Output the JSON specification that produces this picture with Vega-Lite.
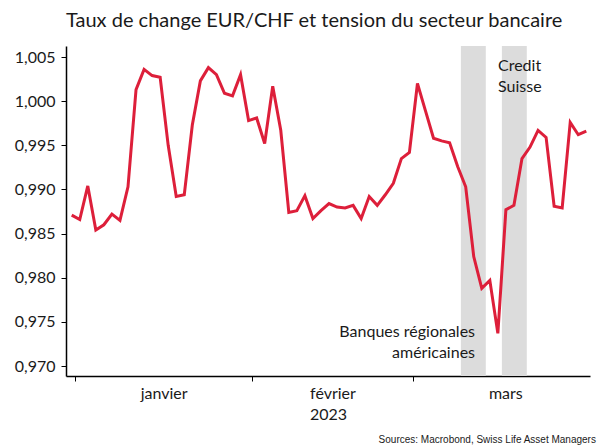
{
  "$schema": "https://vega.github.io/schema/vega-lite/v6.json",
  "width": 524,
  "height": 330,
  "autosize": {"type": "none"},
  "padding": {"left": 66, "top": 46, "right": 7, "bottom": 70},
  "background": "white",
  "title": {
    "text": "Taux de change EUR/CHF et tension du secteur bancaire",
    "anchor": "start",
    "frame": "group",
    "font": "Lato",
    "fontSize": 20,
    "fontWeight": "normal",
    "color": "#1a1a1a",
    "offset": 15
  },
  "config": {"view": {"stroke": null}},
  "layer": [
    {
      "data": {"values": [
        {"event": "Banques régionales américaines", "start": 48.4, "end": 51.5},
        {"event": "Credit Suisse", "start": 53.5, "end": 56.6}
      ]},
      "mark": {"type": "rect", "color": "#DCDCDC"},
      "encoding": {
        "x": {
          "field": "start", "type": "quantitative", "title": "2023",
          "scale": {"domain": [-0.71, 64.46], "nice": false, "zero": false},
          "axis": {
            "values": [0.43, 11.43, 22.43, 32.43, 42.43, 53.93],
            "labelExpr": "abs(datum.value-11.43)<0.1 ? 'janvier' : abs(datum.value-32.43)<0.1 ? 'février' : abs(datum.value-53.93)<0.1 ? 'mars' : ''",
            "tickOpacity": {"condition": {"test": "abs(datum.value-11.43)<0.1 || abs(datum.value-32.43)<0.1 || abs(datum.value-53.93)<0.1", "value": 0}, "value": 1},
            "labelOverlap": false,
            "labelFlush": false,
            "grid": false,
            "domainColor": "#000000",
            "domainWidth": 1.5,
            "tickColor": "#000000",
            "tickWidth": 1,
            "tickSize": 5,
            "labelPadding": 4,
            "labelFont": "Lato",
            "labelFontSize": 16,
            "labelColor": "#1a1a1a",
            "titleFont": "Lato",
            "titleFontSize": 16,
            "titleFontWeight": "normal",
            "titleColor": "#1a1a1a",
            "titlePadding": 5
          }
        },
        "x2": {"field": "end"}
      }
    },
    {
      "data": {"values": [
        {"i": 0, "date": "2023-01-02", "eurchf": 0.9871},
        {"i": 1, "date": "2023-01-03", "eurchf": 0.9866},
        {"i": 2, "date": "2023-01-04", "eurchf": 0.9904},
        {"i": 3, "date": "2023-01-05", "eurchf": 0.9854},
        {"i": 4, "date": "2023-01-06", "eurchf": 0.9860},
        {"i": 5, "date": "2023-01-09", "eurchf": 0.9872},
        {"i": 6, "date": "2023-01-10", "eurchf": 0.9865},
        {"i": 7, "date": "2023-01-11", "eurchf": 0.9903},
        {"i": 8, "date": "2023-01-12", "eurchf": 1.0013},
        {"i": 9, "date": "2023-01-13", "eurchf": 1.0036},
        {"i": 10, "date": "2023-01-16", "eurchf": 1.0029},
        {"i": 11, "date": "2023-01-17", "eurchf": 1.0027},
        {"i": 12, "date": "2023-01-18", "eurchf": 0.9950},
        {"i": 13, "date": "2023-01-19", "eurchf": 0.9892},
        {"i": 14, "date": "2023-01-20", "eurchf": 0.9894},
        {"i": 15, "date": "2023-01-23", "eurchf": 0.9973},
        {"i": 16, "date": "2023-01-24", "eurchf": 1.0023},
        {"i": 17, "date": "2023-01-25", "eurchf": 1.0038},
        {"i": 18, "date": "2023-01-26", "eurchf": 1.0030},
        {"i": 19, "date": "2023-01-27", "eurchf": 1.0009},
        {"i": 20, "date": "2023-01-30", "eurchf": 1.0006},
        {"i": 21, "date": "2023-01-31", "eurchf": 1.0030},
        {"i": 22, "date": "2023-02-01", "eurchf": 0.9978},
        {"i": 23, "date": "2023-02-02", "eurchf": 0.9981},
        {"i": 24, "date": "2023-02-03", "eurchf": 0.9952},
        {"i": 25, "date": "2023-02-06", "eurchf": 1.0017},
        {"i": 26, "date": "2023-02-07", "eurchf": 0.9967},
        {"i": 27, "date": "2023-02-08", "eurchf": 0.9874},
        {"i": 28, "date": "2023-02-09", "eurchf": 0.9876},
        {"i": 29, "date": "2023-02-10", "eurchf": 0.9893},
        {"i": 30, "date": "2023-02-13", "eurchf": 0.9867},
        {"i": 31, "date": "2023-02-14", "eurchf": 0.9876},
        {"i": 32, "date": "2023-02-15", "eurchf": 0.9884},
        {"i": 33, "date": "2023-02-16", "eurchf": 0.9880},
        {"i": 34, "date": "2023-02-17", "eurchf": 0.9879},
        {"i": 35, "date": "2023-02-20", "eurchf": 0.9882},
        {"i": 36, "date": "2023-02-21", "eurchf": 0.9867},
        {"i": 37, "date": "2023-02-22", "eurchf": 0.9892},
        {"i": 38, "date": "2023-02-23", "eurchf": 0.9882},
        {"i": 39, "date": "2023-02-24", "eurchf": 0.9894},
        {"i": 40, "date": "2023-02-27", "eurchf": 0.9907},
        {"i": 41, "date": "2023-02-28", "eurchf": 0.9935},
        {"i": 42, "date": "2023-03-01", "eurchf": 0.9942},
        {"i": 43, "date": "2023-03-02", "eurchf": 1.0020},
        {"i": 44, "date": "2023-03-03", "eurchf": 0.9989},
        {"i": 45, "date": "2023-03-06", "eurchf": 0.9958},
        {"i": 46, "date": "2023-03-07", "eurchf": 0.9955},
        {"i": 47, "date": "2023-03-08", "eurchf": 0.9953},
        {"i": 48, "date": "2023-03-09", "eurchf": 0.9926},
        {"i": 49, "date": "2023-03-10", "eurchf": 0.9903},
        {"i": 50, "date": "2023-03-13", "eurchf": 0.9824},
        {"i": 51, "date": "2023-03-14", "eurchf": 0.9788},
        {"i": 52, "date": "2023-03-15", "eurchf": 0.9797},
        {"i": 53, "date": "2023-03-16", "eurchf": 0.9737},
        {"i": 54, "date": "2023-03-17", "eurchf": 0.9877},
        {"i": 55, "date": "2023-03-20", "eurchf": 0.9882},
        {"i": 56, "date": "2023-03-21", "eurchf": 0.9935},
        {"i": 57, "date": "2023-03-22", "eurchf": 0.9948},
        {"i": 58, "date": "2023-03-23", "eurchf": 0.9967},
        {"i": 59, "date": "2023-03-24", "eurchf": 0.9959},
        {"i": 60, "date": "2023-03-27", "eurchf": 0.9881},
        {"i": 61, "date": "2023-03-28", "eurchf": 0.9879},
        {"i": 62, "date": "2023-03-29", "eurchf": 0.9976},
        {"i": 63, "date": "2023-03-30", "eurchf": 0.9962},
        {"i": 64, "date": "2023-03-31", "eurchf": 0.9966}
      ]},
      "mark": {"type": "line", "color": "#DD1F3A", "strokeWidth": 3, "strokeJoin": "miter"},
      "encoding": {
        "x": {"field": "i", "type": "quantitative", "title": "2023"},
        "y": {
          "field": "eurchf", "type": "quantitative", "title": null,
          "scale": {"domain": [0.96887, 1.00625], "nice": false, "zero": false},
          "axis": {
            "values": [0.970, 0.975, 0.980, 0.985, 0.990, 0.995, 1.000, 1.005],
            "labelExpr": "replace(format(datum.value, '.3f'), '.', ',')",
            "grid": false,
            "domainColor": "#000000",
            "domainWidth": 1.5,
            "tickColor": "#000000",
            "tickWidth": 1,
            "tickSize": 5,
            "labelPadding": 6,
            "labelFont": "Lato",
            "labelFontSize": 16,
            "labelColor": "#1a1a1a"
          }
        }
      }
    },
    {
      "data": {"values": [{"label": "Banques régionales\naméricaines", "i": 50.16, "v": 0.97329}]},
      "mark": {"type": "text", "align": "right", "baseline": "alphabetic", "lineBreak": "\n", "lineHeight": 21, "font": "Lato", "fontSize": 16, "color": "#1a1a1a"},
      "encoding": {
        "x": {"field": "i", "type": "quantitative", "title": "2023"},
        "y": {"field": "v", "type": "quantitative", "title": null},
        "text": {"field": "label"}
      }
    },
    {
      "data": {"values": [{"label": "Credit\nSuisse", "i": 53.02, "v": 1.00345}]},
      "mark": {"type": "text", "align": "left", "baseline": "alphabetic", "lineBreak": "\n", "lineHeight": 21, "font": "Lato", "fontSize": 16, "color": "#1a1a1a"},
      "encoding": {
        "x": {"field": "i", "type": "quantitative", "title": "2023"},
        "y": {"field": "v", "type": "quantitative", "title": null},
        "text": {"field": "label"}
      }
    },
    {
      "data": {"values": [{"label": "Sources: Macrobond, Swiss Life Asset Managers", "i": 65.2, "v": 0.96128}]},
      "mark": {"type": "text", "align": "right", "baseline": "alphabetic", "font": "Liberation Sans", "fontSize": 10, "color": "#1a1a1a"},
      "encoding": {
        "x": {"field": "i", "type": "quantitative", "title": "2023"},
        "y": {"field": "v", "type": "quantitative", "title": null},
        "text": {"field": "label"}
      }
    }
  ]
}
